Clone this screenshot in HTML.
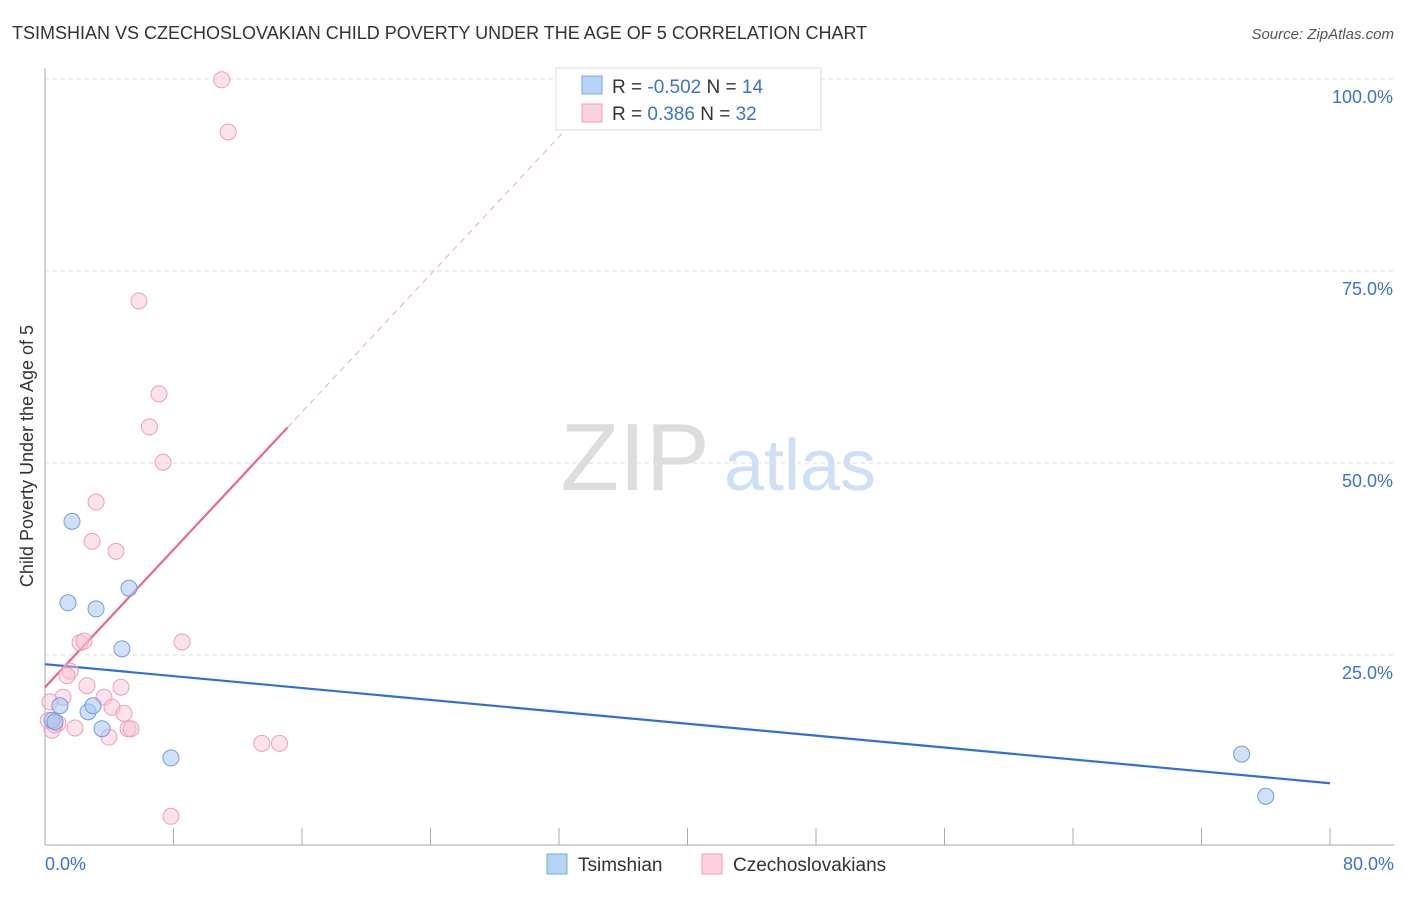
<!DOCTYPE html>
<html><head><meta charset="utf-8"><style>
body{margin:0;background:#fff;font-family:"Liberation Sans",sans-serif;}
svg text{font-family:"Liberation Sans",sans-serif;}
</style></head><body>
<svg id="chart" width="1406" height="892" xmlns="http://www.w3.org/2000/svg">
<text x="12" y="39" font-size="18" fill="#333">TSIMSHIAN VS CZECHOSLOVAKIAN CHILD POVERTY UNDER THE AGE OF 5 CORRELATION CHART</text>
<text x="1394" y="39" font-size="15" fill="#555" font-style="italic" text-anchor="end">Source: ZipAtlas.com</text>
<text transform="translate(33,456) rotate(-90)" font-size="18" fill="#333" text-anchor="middle">Child Poverty Under the Age of 5</text>
<g><text x="635" y="490" font-size="96" fill="#ddd" font-family="Liberation Serif" text-anchor="middle">ZIP</text><text x="800" y="490" font-size="72" fill="#cfe0f4" text-anchor="middle">atlas</text></g>
<g id="grid"></g><g id="axes"></g><g id="trend"></g><g id="pts"></g>
<g>
<rect x="556" y="68" width="265" height="62" fill="#fff" stroke="#ddd"/>
<rect x="582" y="76" width="20" height="18" fill="#b7d3f5" stroke="#7aa8e0"/>
<text x="612" y="93" font-size="19" fill="#333">R = <tspan fill="#3a72d0">-0.502</tspan>   N = <tspan fill="#3a72d0">14</tspan></text>
<rect x="582" y="104" width="20" height="18" fill="#fbd0dd" stroke="#eea0b8"/>
<text x="612" y="120" font-size="19" fill="#333">R =   <tspan fill="#3a72d0">0.386</tspan>   N = <tspan fill="#3a72d0">32</tspan></text>
</g>
<g>
<rect x="547" y="854" width="20" height="20" fill="#b7d3f5" stroke="#7aa8e0"/>
<text x="578" y="871" font-size="19" fill="#333">Tsimshian</text>
<rect x="702" y="854" width="20" height="20" fill="#fbd0dd" stroke="#eea0b8"/>
<text x="733" y="871" font-size="19" fill="#333">Czechoslovakians</text>
</g>
</svg>
<script>
const yTicks=[25,50,75,100];
const yTickLabels=["25.0%","50.0%","75.0%","100.0%"];
const xTickLabels=["0.0%","80.0%"];
const blueX=[0.44,0.62,0.93,1.68,1.43,3.18,5.23,4.79,2.68,2.99,3.55,7.84,74.5,76.0];
const blueY=[16.5,16.3,18.4,42.4,31.8,31.0,33.7,25.8,17.6,18.4,15.4,11.6,12.1,6.6];
const pinkX=[11.0,11.4,5.85,7.1,6.5,7.35,3.18,2.93,4.42,8.53,2.18,2.43,1.56,1.37,1.12,2.61,4.73,3.67,4.17,4.92,0.31,0.44,0.81,1.87,3.98,5.17,5.35,13.5,14.6,7.84,0.6,0.2];
const pinkY=[99.9,93.1,71.1,59.0,54.7,50.1,44.9,39.8,38.5,26.7,26.6,26.8,22.9,22.3,19.5,21.0,20.8,19.5,18.2,17.4,18.9,15.2,16.1,15.5,14.3,15.4,15.4,13.5,13.5,4.0,15.9,16.5];
const blueTrend=[23.8,8.3];
const pinkTrend=[20.8,2.24];
const NS="http://www.w3.org/2000/svg";
const X=v=>45+v/80*1285, Y=v=>847-v/100*768;
function mk(tag,attrs,parent){const e=document.createElementNS(NS,tag);for(const k in attrs)e.setAttribute(k,attrs[k]);document.getElementById(parent).appendChild(e);return e;}
yTicks.forEach((t,i)=>{
 const l=mk('line',{x1:45,x2:1394,y1:Y(t),y2:Y(t),stroke:'#ddd','stroke-dasharray':'4,4'},'grid');
 
 
 const tx=mk('text',{x:1393,y:Y(t)+24,'font-size':18,fill:'#3a72d0','text-anchor':'end'},'grid');
 tx.textContent=yTickLabels[i];
 
 
});
let ax=mk('line',{x1:45,x2:45,y1:68,y2:845,stroke:'#aaa'},'axes');


ax=mk('line',{x1:45,x2:1394,y1:845,y2:845,stroke:'#aaa'},'axes');


for(let i=0;i<=10;i++){const t=mk('line',{x1:X(i*8),x2:X(i*8),y1:828,y2:845,stroke:'#aaa'},'axes');
 
 }
[[0,'start',45],[1,'end',1394]].forEach(([i,a,x])=>{const t=mk('text',{x:x,y:870,'font-size':18,fill:'#3a72d0','text-anchor':a},'axes');t.textContent=xTickLabels[i];
 
 });
let tl=mk('line',{x1:X(0),y1:Y(blueTrend[0]),x2:X(80),y2:Y(blueTrend[1]),stroke:'#2f6fd6','stroke-width':2.2},'trend');


const pEnd=(100-pinkTrend[0])/pinkTrend[1];
tl=mk('line',{x1:X(15.1),y1:Y(pinkTrend[0]+pinkTrend[1]*15.1),x2:X(pEnd),y2:Y(100),stroke:'#f0a8bf','stroke-width':1,'stroke-dasharray':'6,5'},'trend');


tl=mk('line',{x1:X(0),y1:Y(pinkTrend[0]),x2:X(15.1),y2:Y(pinkTrend[0]+pinkTrend[1]*15.1),stroke:'#e8668f','stroke-width':2.2},'trend');


pinkX.forEach((x,i)=>{const c=mk('circle',{cx:X(x),cy:Y(pinkY[i]),r:8,fill:'rgba(248,190,208,0.45)',stroke:'#eea0b8','stroke-width':1},'pts');
 
 });
blueX.forEach((x,i)=>{const c=mk('circle',{cx:X(x),cy:Y(blueY[i]),r:8,fill:'rgba(170,200,240,0.55)',stroke:'#6f9ee0','stroke-width':1},'pts');
 
 });
</script>
</body></html>
